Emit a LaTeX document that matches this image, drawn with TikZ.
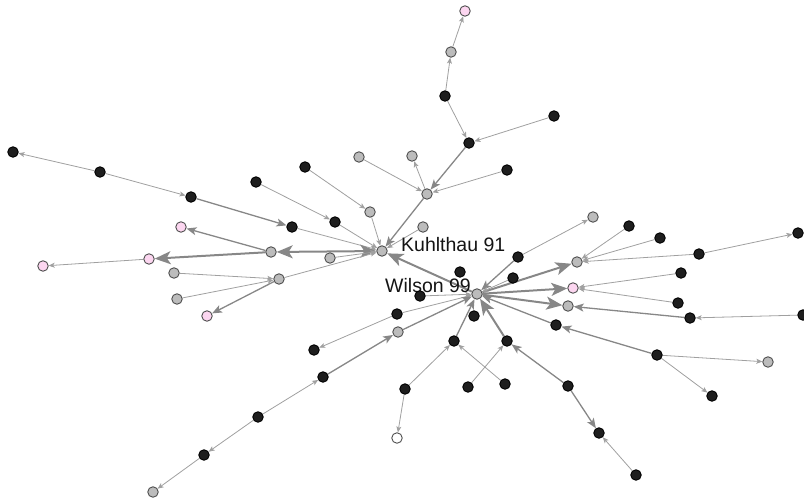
\documentclass[tikz,border=0pt]{standalone}
\usepackage{fontspec}
\setmainfont{Liberation Sans}
\usetikzlibrary{arrows.meta}
\pgfdeclarelayer{bg}
\pgfsetlayers{bg,main}
\definecolor{edgec}{RGB}{135,135,135}
\definecolor{edgel}{RGB}{160,160,160}
\definecolor{nblack}{RGB}{30,30,30}
\definecolor{ngray}{RGB}{188,188,188}
\definecolor{npink}{RGB}{252,214,240}
\definecolor{nline}{RGB}{80,80,80}
\tikzset{
 nd/.style={circle,inner sep=0pt,minimum size=10.5pt,line width=0.9pt},
 nb/.style={nd,fill=nblack,draw=black},
 ng/.style={nd,fill=ngray,draw=nline},
 np/.style={nd,fill=npink,draw=nline},
 nw/.style={nd,fill=white,draw=nline},
 ea/.style={draw=edgel,line width=0.8pt,-{Stealth[length=6pt,width=5pt,inset=1.5pt]}},
 eb/.style={draw=edgec,line width=1.3pt,-{Stealth[length=10pt,width=8pt,inset=2.5pt]}},
 ec/.style={draw=edgec,line width=2pt,-{Stealth[length=16pt,width=13pt,inset=4pt]}},
 ecc/.style={draw=edgec,line width=2pt,{Stealth[length=16pt,width=13pt,inset=4pt]}-{Stealth[length=16pt,width=13pt,inset=4pt]}},
 lbl/.style={anchor=base west,inner sep=0pt,font=\fontsize{19.5}{20}\selectfont,text=black!92}
}
\begin{document}
\begin{tikzpicture}[x=1pt,y=-1pt]
\useasboundingbox (0,0) rectangle (804,498);
% main hubs
\node[ng] (K) at (382,251) {};
\node[ng] (W) at (477,294) {};
\node[lbl] (lk) at (401,251) {Kuhlthau 91};
\node[lbl] (lw) at (385,292) {Wilson 99};
% top branch
\node[np] (p1) at (465,11) {};
\node[ng] (g1) at (451,52) {};
\node[nb] (b1) at (445,96) {};
\node[nb] (b2) at (469,143) {};
\node[nb] (b3) at (554,116) {};
\node[ng] (g2) at (412,156) {};
\node[ng] (g3) at (427,194) {};
\node[nb] (b4) at (507,170) {};
\node[ng] (g4) at (359,157) {};
% upper left
\node[nb] (b5) at (256,182) {};
\node[nb] (b6) at (305,167) {};
\node[nb] (b8) at (335,222) {};
\node[ng] (g5) at (370,212) {};
\node[ng] (g6) at (423,227) {};
\node[nb] (b7) at (13,152) {};
\node[nb] (b9) at (100,172) {};
\node[nb] (b10) at (191,197) {};
\node[nb] (b11) at (292,227) {};
% left cluster
\node[ng] (gL1) at (271,252) {};
\node[np] (pL1) at (181,227) {};
\node[np] (pL2) at (149,259) {};
\node[np] (pL3) at (43,266) {};
\node[ng] (gL2) at (174,273) {};
\node[ng] (gL3) at (177,299) {};
\node[np] (pL4) at (207,316) {};
\node[ng] (gL4) at (279,279) {};
\node[ng] (gL5) at (330,258) {};
% right cluster
\node[ng] (gR1) at (593,217) {};
\node[nb] (bR1) at (629,226) {};
\node[nb] (bR2) at (660,238) {};
\node[nb] (bR3) at (798,233) {};
\node[nb] (bR4) at (699,254) {};
\node[ng] (gR2) at (577,262) {};
\node[nb] (bR5) at (518,257) {};
\node[nb] (bR6) at (460,272) {};
\node[nb] (bR7) at (513,278) {};
\node[nb] (bR8) at (681,273) {};
\node[np] (pR1) at (573,288) {};
\node[nb] (bR9) at (678,303) {};
\node[ng] (gR3) at (568,306) {};
\node[nb] (bR10) at (690,318) {};
\node[nb] (bR11) at (803,315) {};
\node[nb] (bR12) at (556,325) {};
\node[nb] (bR13) at (474,316) {};
\node[nb] (bR14) at (454,341) {};
\node[nb] (bR15) at (507,341) {};
\node[nb] (bR16) at (657,355) {};
\node[ng] (gR4) at (768,362) {};
\node[nb] (bR17) at (468,387) {};
\node[nb] (bR18) at (505,384) {};
\node[nb] (bR19) at (568,386) {};
\node[nb] (bR20) at (712,396) {};
\node[nb] (bR21) at (599,433) {};
\node[nb] (bR22) at (636,475) {};
\node[nb] (bR23) at (405,389) {};
\node[nw] (wh) at (397,438) {};
\node[nb] (bR24) at (397,314) {};
\node[nb] (bR25) at (314,350) {};
\node[nb] (bR26) at (420,296) {};
\node[ng] (gR5) at (398,332) {};
\node[nb] (bR27) at (323,377) {};
\node[nb] (bR28) at (258,417) {};
\node[nb] (bR29) at (204,455) {};
\node[ng] (gR6) at (153,492) {};
\begin{pgfonlayer}{bg}
% top
\draw[ea] (g1) -- (p1);
\draw[ea] (b1) -- (g1);
\draw[ea] (b1) -- (b2);
\draw[ea] (b3) -- (b2);
\draw[eb] (b2) -- (g3);
\draw[ea] (g3) -- (g2);
\draw[ea] (b4) -- (g3);
\draw[ea] (g4) -- (g3);
\draw[eb] (g3) -- (K);
% upper left
\draw[ea] (b9) -- (b7);
\draw[ea] (b9) -- (b10);
\draw[eb] (b10) -- (b11);
\draw[ea] (b11) -- (K);
\draw[ea] (b5) -- (b8);
\draw[ea] (b8) -- (K);
\draw[ea] (b6) -- (g5);
\draw[ea] (g5) -- (K);
\draw[ea] (g6) -- (K);
% left
\draw[ecc] (gL1) -- (K);
\draw[ec] (gL1) -- (pL2);
\draw[eb] (gL1) -- (pL1);
\draw[ea] (pL2) -- (pL3);
\draw[ea] (gL2) -- (gL4);
\draw[ea] (gL3) -- (gL4);
\draw[eb] (gL4) -- (pL4);
\draw[ea] (gL4) -- (K);
\draw[ea] (gL5) -- (K);
% W
\draw[ec] (W) -- (K);
\draw[ea] (bR5) -- (gR1);
\draw[eb] (bR5) -- (W);
\draw[ea] (bR1) -- (gR2);
\draw[ea] (bR2) -- (gR2);
\draw[ea] (bR4) -- (gR2);
\draw[ea] (bR4) -- (bR3);
\draw[ec] (W) -- (gR2);
\draw[ea] (bR7) -- (W);
\draw[ec] (W) -- (pR1);
\draw[ea] (bR8) -- (pR1);
\draw[ea] (bR9) -- (pR1);
\draw[ec] (W) -- (gR3);
\draw[eb] (bR10) -- (gR3);
\draw[ea] (bR11) -- (bR10);
\draw[eb] (bR16) -- (bR12);
\draw[eb] (bR12) -- (W);
\draw[ea] (bR16) -- (gR4);
\draw[ea] (bR16) -- (bR20);
\draw[eb] (bR14) -- (W);
\draw[ec] (bR15) -- (W);
\draw[ea] (bR17) -- (bR15);
\draw[ea] (bR18) -- (bR14);
\draw[eb] (bR19) -- (bR15);
\draw[eb] (bR19) -- (bR21);
\draw[ea] (bR22) -- (bR21);
\draw[ea] (bR23) -- (bR14);
\draw[ea] (bR23) -- (wh);
\draw[ea] (bR24) -- (bR25);
\draw[ea] (bR24) -- (W);
\draw[ea] (bR26) -- (W);
\draw[eb] (gR5) -- (W);
\draw[eb] (bR27) -- (gR5);
\draw[ea] (bR28) -- (bR27);
\draw[ea] (bR28) -- (bR29);
\draw[ea] (bR29) -- (gR6);
\end{pgfonlayer}
\end{tikzpicture}
\end{document}
